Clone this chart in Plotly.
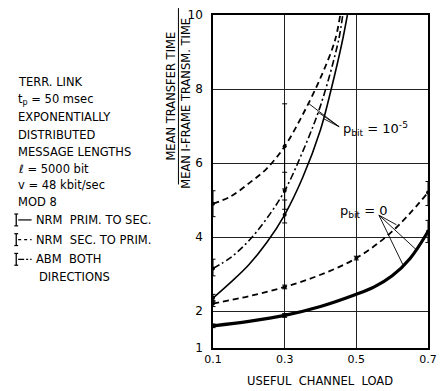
import plotly.graph_objects as go

# ---------------- data ----------------
# p_bit = 1e-5 curves
x_sec_prim_e5 = [0.10, 0.15, 0.20, 0.25, 0.30, 0.35, 0.40, 0.44, 0.455]
y_sec_prim_e5 = [4.90, 5.10, 5.45, 5.85, 6.45, 7.30, 8.30, 9.30, 10.0]
x_abm_e5 = [0.10, 0.15, 0.20, 0.25, 0.30, 0.35, 0.40, 0.45, 0.462]
y_abm_e5 = [3.15, 3.45, 3.90, 4.50, 5.25, 6.30, 7.55, 9.30, 10.0]
x_prim_sec_e5 = [0.10, 0.15, 0.20, 0.25, 0.30, 0.35, 0.40, 0.43, 0.46, 0.475]
y_prim_sec_e5 = [2.35, 2.78, 3.25, 3.85, 4.60, 5.60, 6.90, 8.00, 9.25, 10.0]
# p_bit = 0 curves
x_sec_prim_0 = [0.1, 0.2, 0.3, 0.4, 0.5, 0.6, 0.7]
y_sec_prim_0 = [2.20, 2.40, 2.65, 2.98, 3.43, 4.15, 5.20]
x_other_0 = [0.1, 0.2, 0.3, 0.4, 0.5, 0.55, 0.6, 0.65, 0.7]
y_other_0 = [1.60, 1.72, 1.88, 2.12, 2.45, 2.65, 2.95, 3.42, 4.15]

# measured points with confidence bars
pts = {
    "sec_prim_e5": dict(x=[0.1, 0.3], y=[4.90, 6.45], up=[0.35, 1.15], dn=[0.35, 1.15]),
    "abm_e5": dict(x=[0.1, 0.3], y=[3.15, 5.25], up=[0.25, 0.50], dn=[0.20, 0.50]),
    "prim_sec_e5": dict(x=[0.1, 0.3], y=[2.35, 4.60], up=[0.10, 0.40], dn=[0.10, 0.22]),
    "sec_prim_0": dict(x=[0.1, 0.3, 0.5, 0.7], y=[2.20, 2.65, 3.43, 5.20], up=[0.08, 0.05, 0.05, 0.30], dn=[0.08, 0.05, 0.05, 0.35]),
    "other_0": dict(x=[0.1, 0.3, 0.7], y=[1.60, 1.88, 4.15], up=[0.05, 0.05, 0.30], dn=[0.05, 0.05, 0.30]),
}

x_ticks = [0.1, 0.3, 0.5, 0.7]
x_tick_text = ["0.1", "0.3", "0.5", "0.7"]
y_ticks = [1, 2, 4, 6, 8, 10]
y_tick_text = ["1", "2", "4", "6", "8", "10"]

info_lines = ["TERR. LINK", "t<sub>p</sub> = 50 msec", "EXPONENTIALLY", "DISTRIBUTED",
              "MESSAGE LENGTHS", "ℓ = 5000 bit", "v = 48 kbit/sec", "MOD 8"]
legend_lines = ["NRM  PRIM. TO SEC.", "NRM  SEC. TO PRIM.", "ABM  BOTH"]

# ---------------- layout geometry ----------------
W, H = 445, 391
L, R, T, B = 213, 437, 10, 348
FONT = "DejaVu Sans"


def xp(px):
    return (px - L) / (R - L)


def yp(py):
    return (B - py) / (B - T)


fig = go.Figure()

dash_dd = "7px,3px,2px,3px"
curves = [
    (x_sec_prim_e5, y_sec_prim_e5, "6px,4px", 1.8),
    (x_abm_e5, y_abm_e5, dash_dd, 1.6),
    (x_prim_sec_e5, y_prim_sec_e5, "solid", 1.6),
    (x_sec_prim_0, y_sec_prim_0, "6px,4px", 1.8),
    (x_other_0, y_other_0, "solid", 3.2),
]
for xs, ys, dash, w in curves:
    fig.add_trace(go.Scatter(x=xs, y=ys, mode="lines",
                             line=dict(color="black", width=w, dash=dash, shape="spline", smoothing=1.0),
                             showlegend=False, hoverinfo="skip"))

for k, p in pts.items():
    fig.add_trace(go.Scatter(x=p["x"], y=p["y"], mode="markers",
                             marker=dict(color="black", size=4),
                             error_y=dict(type="data", symmetric=False, array=p["up"], arrayminus=p["dn"],
                                          color="black", thickness=1, width=2.5),
                             cliponaxis=False, showlegend=False, hoverinfo="skip"))

annotations = []
shapes = []


def txt(x, y, text, size=11.5, xanchor="center", yanchor="middle", angle=0, xref="paper", yref="paper"):
    annotations.append(dict(x=x, y=y, xref=xref, yref=yref, text=text, textangle=angle,
                            xanchor=xanchor, yanchor=yanchor, showarrow=False,
                            font=dict(family=FONT, size=size, color="black")))


# y-axis title as a fraction
txt(xp(169), yp(92), "MEAN TRANSFER TIME", angle=-90)
txt(xp(185), yp(100), "MEAN I-FRAME TRANSM. TIME", angle=-90)
shapes.append(dict(type="line", xref="paper", yref="paper", x0=xp(177), x1=xp(177), y0=yp(3), y1=yp(182),
                   line=dict(color="black", width=1)))

# x-axis title
txt(xp(324), yp(382), "USEFUL  CHANNEL  LOAD")

# info text block
row_y = [78, 96, 114, 132, 149, 166, 183, 200]
for t_, py in zip(info_lines, row_y):
    txt(xp(8), yp(py), t_, xanchor="left")

leg_y = [218, 238, 258]
leg_dash = ["solid", "3px,3px", "6px,2px,2px,2px"]
for t_, py, d in zip(legend_lines, leg_y, leg_dash):
    shapes.append(dict(type="line", xref="paper", yref="paper", x0=xp(8), x1=xp(8), y0=yp(py - 6), y1=yp(py + 6),
                       line=dict(color="black", width=1.3)))
    for dy in (-6, 6):
        shapes.append(dict(type="line", xref="paper", yref="paper", x0=xp(6), x1=xp(10), y0=yp(py + dy),
                           y1=yp(py + dy), line=dict(color="black", width=1.2)))
    shapes.append(dict(type="line", xref="paper", yref="paper", x0=xp(10), x1=xp(24), y0=yp(py), y1=yp(py),
                       line=dict(color="black", width=1.2, dash=d)))
    txt(xp(27), yp(py), t_, xanchor="left")
txt(xp(30), yp(276), "DIRECTIONS", xanchor="left")

# p_bit labels
txt(0.456, 6.93, "p<sub>bit</sub> = 10<sup>-5</sup>", size=13, xanchor="left", xref="x", yref="y")
txt(0.449, 4.70, "p<sub>bit</sub> = 0", size=13, xanchor="left", xref="x", yref="y")

# pointer lines
fan_e5 = [(0.368, 7.60), (0.392, 7.38), (0.408, 7.20)]
for (xe, ye) in fan_e5:
    shapes.append(dict(type="line", xref="x", yref="y", x0=0.452, y0=6.98, x1=xe, y1=ye,
                       line=dict(color="black", width=0.9)))
fan_0 = [(0.612, 4.33), (0.630, 3.25), (0.668, 3.65)]
for (xe, ye) in fan_0:
    shapes.append(dict(type="line", xref="x", yref="y", x0=0.563, y0=4.59, x1=xe, y1=ye,
                       line=dict(color="black", width=0.9)))

fig.update_layout(
    width=W, height=H,
    margin=dict(l=L, r=W - R, t=T, b=H - B),
    paper_bgcolor="white", plot_bgcolor="white",
    annotations=annotations, shapes=shapes,
    showlegend=False,
    xaxis=dict(range=[0.1, 0.7], tickvals=x_ticks, ticktext=x_tick_text, showgrid=True,
               gridcolor="#222", gridwidth=1, showline=True, linecolor="black", linewidth=1.5, mirror=True,
               zeroline=False, ticks="", tickfont=dict(family=FONT, size=11, color="black")),
    yaxis=dict(range=[1, 10], tickvals=y_ticks, ticktext=y_tick_text, showgrid=True,
               gridcolor="#222", gridwidth=1, showline=True, linecolor="black", linewidth=1.5, mirror=True,
               zeroline=False, ticks="", ticklabelstandoff=6, tickfont=dict(family=FONT, size=12, color="black")),
)

fig.write_html("out.html", config={"displayModeBar": False},
               post_script="document.body.style.margin='0px';")
